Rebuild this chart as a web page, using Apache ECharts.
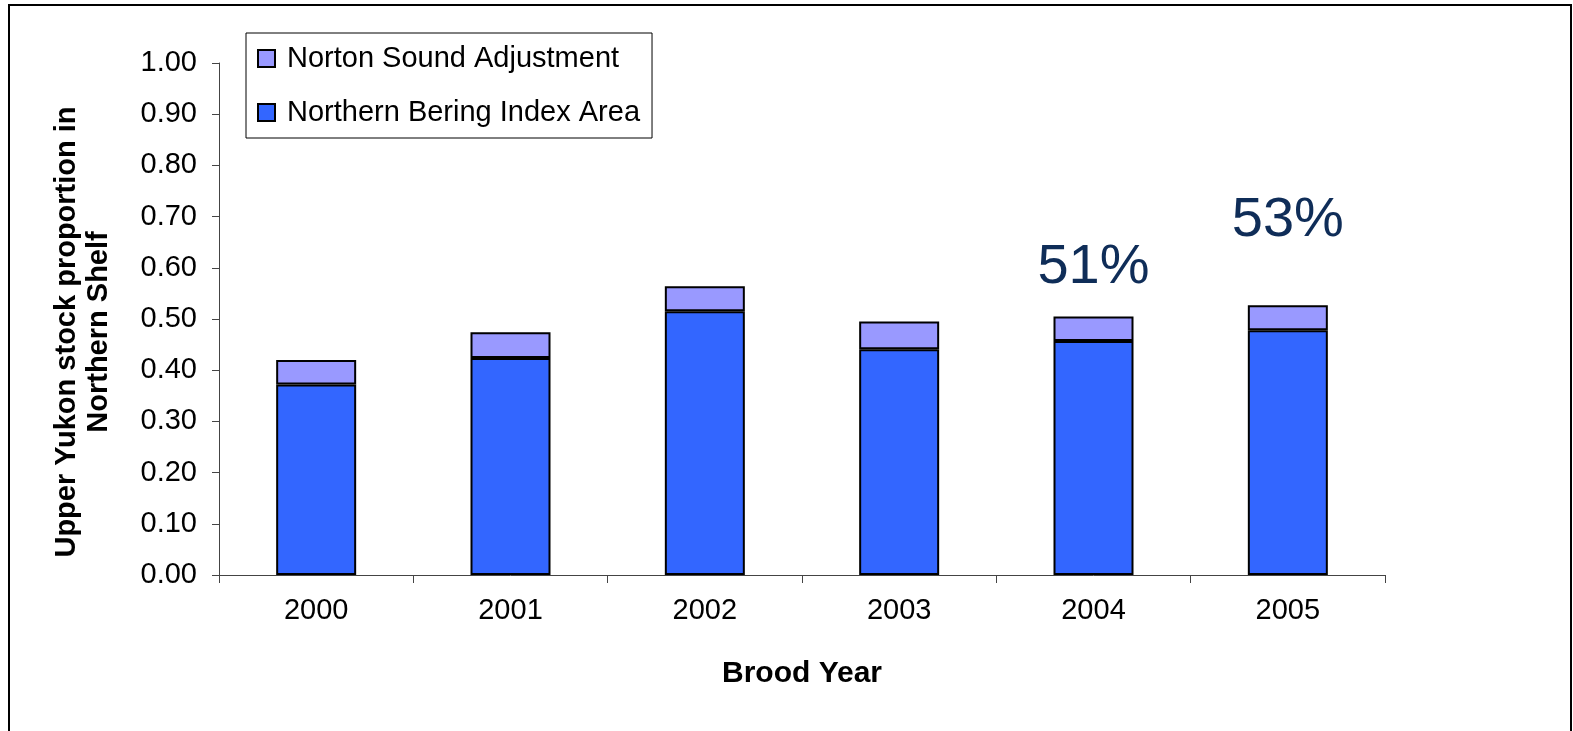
<!DOCTYPE html>
<html>
<head>
<meta charset="utf-8">
<script src="https://cdn.jsdelivr.net/npm/echarts@6/dist/echarts.min.js"></script>
<style>
  html, body { margin: 0; padding: 0; background: #fff; }
  #chart { width: 1573px; height: 731px; }
</style>
</head>
<body>
<div id="chart"></div>
<script>
// brood years
const years = ['2000', '2001', '2002', '2003', '2004', '2005']
// Northern Bering Index Area proportion
const baseVals = [0.372, 0.424, 0.515, 0.441, 0.457, 0.478]
// Norton Sound adjustment added on top
const adjVals = [0.048, 0.050, 0.049, 0.054, 0.048, 0.049]
// percent callouts above some bars
const pctLabels = ['', '', '', '', '51%', '53%']
const pctDistance = [0, 0, 0, 0, 21, 57]

const font = 'Liberation Sans, Arial, sans-serif'
const myChart = echarts.init(document.getElementById('chart'))

const adjData = adjVals.map((v, i) => {
  const d = { value: v }
  if (pctLabels[i]) {
    d.label = {
      show: true,
      position: 'top',
      distance: pctDistance[i],
      formatter: pctLabels[i],
      fontSize: 56,
      fontFamily: font,
      color: '#0f2d58'
    }
  }
  return d
})

const option = {
  animation: false,
  grid: {
    left: 219,
    right: 188,
    top: 63,
    bottom: 156
  },
  legend: {
    data: ['Norton Sound Adjustment', 'Northern Bering Index Area'],
    orient: 'vertical',
    left: 246,
    top: 33,
    padding: [11, 12, 11, 11],
    itemWidth: 17,
    itemHeight: 17,
    itemGap: 25,
    borderColor: '#000',
    borderWidth: 1,
    icon: 'rect',
    selectedMode: false,
    textStyle: {
      fontSize: 29,
      fontFamily: font,
      color: '#000',
      padding: [0, 0, 0, 7]
    }
  },
  xAxis: {
    type: 'category',
    data: years,
    name: 'Brood Year',
    nameLocation: 'middle',
    nameGap: 84,
    nameTextStyle: {
      fontSize: 30,
      fontWeight: 'bold',
      fontFamily: font,
      color: '#000'
    },
    axisLine: { lineStyle: { color: '#444', width: 1 } },
    axisTick: { show: true, length: 8, lineStyle: { color: '#444' } },
    axisLabel: {
      fontSize: 29,
      fontFamily: font,
      color: '#000',
      margin: 21
    }
  },
  yAxis: {
    type: 'value',
    min: 0,
    max: 1,
    interval: 0.1,
    axisLine: { show: true, lineStyle: { color: '#444', width: 1 } },
    axisTick: { show: true, length: 7, lineStyle: { color: '#444' } },
    splitLine: { show: false },
    axisLabel: {
      fontSize: 29,
      fontFamily: font,
      color: '#000',
      margin: 22,
      formatter: (v) => v.toFixed(2)
    }
  },
  series: [
    {
      name: 'Northern Bering Index Area',
      type: 'bar',
      stack: 'total',
      barWidth: 80,
      itemStyle: { color: '#3366ff', borderColor: '#000', borderWidth: 2 },
      data: baseVals
    },
    {
      name: 'Norton Sound Adjustment',
      type: 'bar',
      stack: 'total',
      barWidth: 80,
      itemStyle: { color: '#9999ff', borderColor: '#000', borderWidth: 2 },
      data: adjData
    }
  ],
  graphic: [
    {
      type: 'rect',
      shape: { x: 9, y: 5, width: 1562, height: 760 },
      style: { fill: 'none', stroke: '#000', lineWidth: 2 },
      silent: true
    },
    {
      type: 'text',
      x: 83,
      y: 332,
      rotation: Math.PI / 2,
      style: {
        text: 'Upper Yukon stock proportion in\nNorthern Shelf',
        font: 'bold 29px ' + font,
        fill: '#000',
        align: 'center',
        verticalAlign: 'middle',
        lineHeight: 32
      }
    }
  ]
}

myChart.setOption(option)
</script>
</body>
</html>
